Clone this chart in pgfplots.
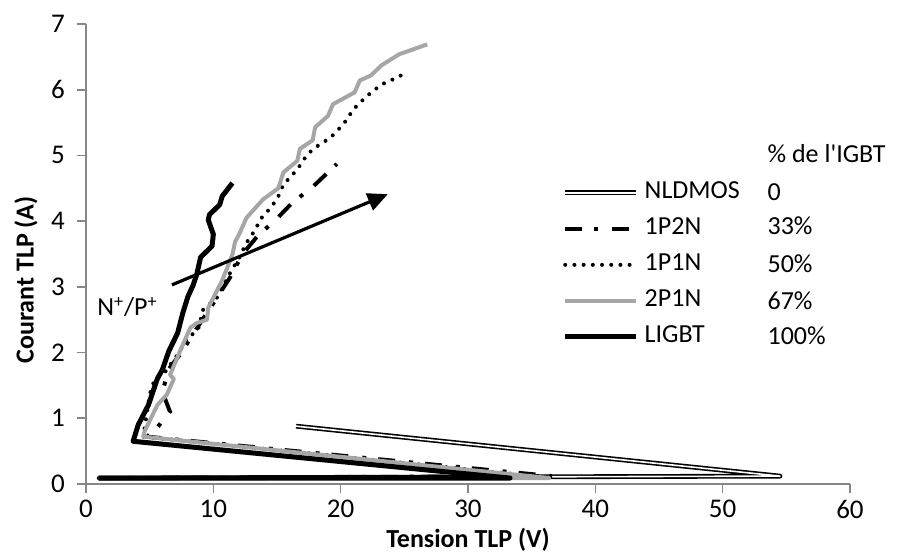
\documentclass[border=0pt]{standalone}
\usepackage{pgfplots}
\pgfplotsset{compat=1.18}
\usetikzlibrary{arrows.meta}
\usepackage{fontspec}
\setmainfont{Carlito}[Ligatures=TeXOff]
\definecolor{axgray}{RGB}{134,134,134}
\definecolor{sgray}{RGB}{166,166,166}
\begin{document}
\begin{tikzpicture}
\useasboundingbox (-43pt,-36pt) rectangle (407.5pt,242pt);
\begin{axis}[
  scale only axis,
  width=382pt, height=230pt,
  xmin=0, xmax=60, ymin=0, ymax=7,
  xtick={0,10,...,60}, ytick={0,1,...,7},
  axis x line=bottom, axis y line=left,
  axis line style={axgray, line width=0.8pt, -},
  tick style={axgray, line width=0.8pt},
  major tick length=4.5pt,
  tick align=outside,
  clip=false,
  font=\fontsize{13}{15}\selectfont,
  /pgf/number format/assume math mode=true,
  ticklabel style={font=\fontsize{13.5}{15}\selectfont},
  yticklabel style={xshift=-2.5pt},
  every axis x label/.style={at={(rel axis cs:0.5,0)}, anchor=center, yshift=-28pt},
  every axis y label/.style={at={(rel axis cs:0,0.4435)}, anchor=center, xshift=-30pt, rotate=90},
  xlabel={\bfseries Tension TLP (V)},
  ylabel={\bfseries Courant TLP (A)},
  legend image code/.code={\draw[#1] (0pt,0pt) -- (35.5pt,0pt);},
  legend cell align=left,
  legend style={draw=none, fill=none, inner sep=0pt, outer sep=0pt,
    at={(rel axis cs:0.624,0.659)}, anchor=north west,
    nodes={inner sep=0pt, text height=9pt, text depth=3pt, font=\fontsize{13}{15}\selectfont},
    row sep=6pt,
    /tikz/every odd column/.append style={column sep=3pt}},
]
\addplot[black, line width=0.8pt, double=white, double distance=0.8pt, line join=round] coordinates {
(1,0.09) (54.5,0.12) (16.5,0.88)};
\addlegendentry{NLDMOS}
\addplot[black, line width=2pt, line cap=butt, dash pattern={on 8.5pt off 6pt on 2pt off 7pt}] coordinates {
(1,0.09) (36.6,0.12) (4.8,0.72) (5.6,0.86) (6.6,1.1) (6.0,1.4) (6.5,1.75) (7.5,2.0) (8.8,2.4) (10.0,2.75) (11.3,3.14) (12.3,3.5) (13.5,3.78) (14.9,4.02) (16.2,4.28) (17.8,4.52) (19.7,4.87)};
\addlegendentry{1P2N}
\addplot[black, line width=2pt, line cap=round, dash pattern={on 0pt off 4.6pt}] coordinates {
(1,0.09) (36.3,0.1) (4.5,0.72) (5.0,1.36) (5.4,1.6) (6.05,1.66) (7.2,1.97) (8.0,2.22) (8.8,2.35) (9.2,2.65) (10.3,2.84) (11.1,3.14) (12.1,3.47) (12.6,3.67) (13.3,3.87) (13.7,4.03) (14.3,4.16) (15.0,4.33) (15.5,4.56) (16.0,4.66) (16.6,4.79) (17.4,5.02) (18.0,5.12) (19.2,5.27) (20.2,5.47) (21.0,5.7) (21.5,5.8) (22.1,5.91) (23.2,6.08) (24.5,6.19) (25.2,6.27)};
\addlegendentry{1P1N}
\addplot[sgray, line width=2pt, line join=round] coordinates {
(1,0.09) (36.4,0.09) (4.5,0.72) (4.6,0.8) (5.6,1.2) (6.35,1.36) (6.9,1.6) (6.6,1.66) (7.4,2.03) (8.2,2.38) (8.7,2.45) (9.5,2.5) (9.6,2.68) (10.1,2.87) (10.7,3.1) (11.5,3.49) (11.7,3.68) (12.1,3.83) (12.6,4.05) (13.9,4.33) (15.1,4.5) (15.5,4.74) (16.6,4.92) (16.8,5.1) (17.8,5.23) (18.0,5.43) (19.0,5.6) (19.4,5.78) (21.1,5.96) (21.5,6.14) (22.4,6.22) (23.2,6.37) (24.6,6.54) (26.8,6.69)};
\addlegendentry{2P1N}
\addplot[black, line width=2.5pt, line join=round] coordinates {
(1,0.09) (33.3,0.09) (3.7,0.65) (4.1,0.9) (4.9,1.2) (5.6,1.6) (6.0,1.74) (6.5,2.02) (7.2,2.3) (7.6,2.6) (8.0,2.85) (8.4,3.02) (8.7,3.19) (9.0,3.45) (9.9,3.62) (10.0,3.8) (9.6,4.02) (9.7,4.1) (10.5,4.25) (10.7,4.38) (11.5,4.58)};
\addlegendentry{LIGBT}
\draw[black, line width=1.6pt, -{Triangle[length=10pt,width=9pt]}] (axis cs:6.75,3.03) -- (axis cs:23.7,4.41);
\node[anchor=base west, inner sep=0pt] at (axis cs:0.86,2.56) {N\textsuperscript{+}/P\textsuperscript{+}};
\node[anchor=base west, inner sep=0pt] at (axis cs:53.5,4.89) {\% de l'IGBT};
\node[anchor=base west, inner sep=0pt] at (axis cs:53.5,4.31) {0};
\node[anchor=base west, inner sep=0pt] at (axis cs:53.5,3.80) {33\%};
\node[anchor=base west, inner sep=0pt] at (axis cs:53.5,3.22) {50\%};
\node[anchor=base west, inner sep=0pt] at (axis cs:53.5,2.66) {67\%};
\node[anchor=base west, inner sep=0pt] at (axis cs:53.5,2.12) {100\%};
\end{axis}
\end{tikzpicture}
\end{document}
